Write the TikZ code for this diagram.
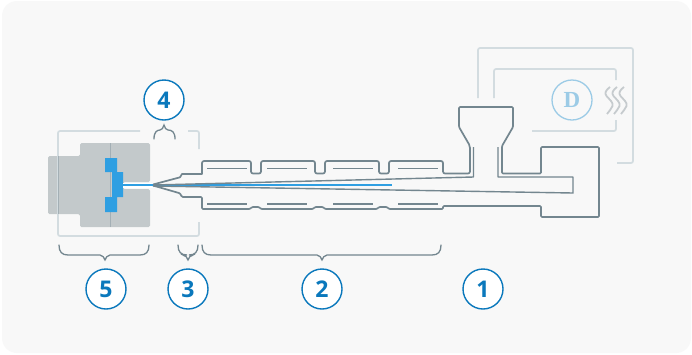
\documentclass[tikz,border=0pt]{standalone}
\usepackage{fontspec}
\setmainfont{Open Sans}
\newfontfamily\dfont{Liberation Serif}
\definecolor{bgc}{HTML}{F8F8F8}
\definecolor{steel}{HTML}{73868F}
\definecolor{framec}{HTML}{D3DCE0}
\definecolor{moldc}{HTML}{C3C9CB}
\definecolor{moldl}{HTML}{A3AFB5}
\definecolor{bluep}{HTML}{2F9FE2}
\definecolor{numc}{HTML}{0A78BC}
\definecolor{softb}{HTML}{9CCBE6}
\definecolor{wavec}{HTML}{C6CBCE}
\tikzset{
  steelline/.style={draw=steel,line width=1.7pt,line join=round},
  dashline/.style={draw=steel,line width=1.3pt},
  ctrl/.style={draw=framec,line width=1.7pt,rounded corners=2pt},
  bracel/.style={draw=steel,line width=1.3pt,line cap=round},
  numdisc/.style={circle,draw=numc,line width=1.4pt,fill=white,minimum size=40pt,inner sep=0pt,text=numc,font=\fontsize{23}{23}\selectfont\bfseries},
  wave/.style={draw=wavec,line width=1.8pt},
}
\newcommand{\bracket}[4]{%
  \draw[bracel] (#1,#3) .. controls (#1,#3+7) and (#1+3,#3+10) .. (#1+9,#3+10)
    -- (#4-5,#3+10) .. controls (#4-2,#3+10) and (#4-1,#3+13) .. (#4,#3+15)
    .. controls (#4+1,#3+13) and (#4+2,#3+10) .. (#4+5,#3+10)
    -- (#2-9,#3+10) .. controls (#2-3,#3+10) and (#2,#3+7) .. (#2,#3);}
\begin{document}
\begin{tikzpicture}[x=1pt,y=-1pt]
\useasboundingbox (0,0) rectangle (692,354);
\fill[white] (0,0) rectangle (692,354);
\fill[bgc,rounded corners=15pt] (2,1) rectangle (691,353);
% mold
\fill[moldc,rounded corners=1.5pt] (80,143) -- (150,143) -- (150,182) -- (123,182) -- (123,189) -- (150,189) -- (150,227) -- (80,227) -- (80,214) -- (48,214) -- (48,156) -- (80,156) -- cycle;
\draw[moldl,line width=1pt] (110,143) -- (110,227);
% control and frame
\draw[ctrl] (140,131) -- (58,131) -- (58,236) -- (199,236) -- (199,222);
\draw[ctrl] (188,131) -- (199,131) -- (199,149);
\draw[moldl,line width=1pt] (58,156) -- (58,214);
\draw[ctrl] (478,98) -- (478,48) -- (633,48) -- (633,163) -- (617,163);
\draw[ctrl] (494,98) -- (494,69) -- (616,69) -- (616,80);
\draw[ctrl] (616,120) -- (616,131) -- (532,131);
% blue part
\fill[bluep] (105,158) -- (117,158) -- (117,172) -- (123,172) -- (123,197) -- (117,197) -- (117,212) -- (105,212) -- (105,197) -- (112,197) -- (112,172) -- (105,172) -- cycle;
\fill[white] (123,182.5) rectangle (153,188);
\draw[bluep,line width=1.2pt] (123,185) -- (392,185);
% barrel
\draw[steelline,line width=1.4pt] (153,185) -- (473.5,177) -- (473.5,147);
\draw[steelline,line width=1.4pt] (498,147) -- (498,177) -- (573,177) -- (573,193) -- (153,186);
\draw[steelline] (153,184.5) -- (180,177.3) -- (182,174) -- (202,174)
  [rounded corners=2pt] -- (202,161) -- (251,161) -- (251,173.5) -- (261,173.5) -- (261,161) -- (315,161) -- (315,173.5) -- (325,173.5) -- (325,161) -- (379,161) -- (379,173.5) -- (389,173.5) -- (389,161) -- (443,161) -- (443,173.5) -- (470,173.5) -- (470,146)
  [rounded corners=1pt] -- (459,127) -- (459,107) -- (513,107) -- (513,127) -- (502,146) -- (502,173.5) -- (541,173.5) -- (541,147) -- (599,147) -- (599,217) -- (541,217) -- (541,206) -- (443,206) -- (443,209) -- (389,209) -- (387,207) -- (379,207) -- (377,209) -- (325,209) -- (323,207) -- (315,207) -- (313,209) -- (261,209) -- (259,207) -- (252,207) -- (250,209) -- (202,209) -- (202,197) -- (182,197) -- (180,193.3) -- (153,185.5);
\foreach \a/\b in {207/247,267/307,333/373,398/438}{
  \draw[dashline] (\a,168.3) -- (\b,168.3);
  \draw[dashline] (\a,204) -- (\b,204);
}
% dryer
\node[circle,draw=softb,line width=1.3pt,minimum size=40pt,inner sep=0pt,text=softb,font=\dfont\fontsize{23}{23}\selectfont\bfseries] (dry) at (572,100) {D};
\foreach \x in {0,7,14}{
  \draw[wave] (610+\x,87) .. controls (606+\x,90) and (604+\x,93) .. (606.5+\x,96)
     .. controls (609+\x,99) and (614+\x,103) .. (612.5+\x,106)
     .. controls (611.5+\x,109) and (609+\x,111) .. (607+\x,114);
}
% braces
\bracket{59}{149}{245}{105}
\bracket{178}{198}{245}{188}
\bracket{202}{441}{245}{322}
\draw[bracel] (154,139) .. controls (154,132) and (157,130) .. (160,130) .. controls (162,130) and (163,128) .. (164,125) .. controls (165,128) and (166,130) .. (168,130) .. controls (172,130) and (175,132) .. (175,139);
% numbers
\node[numdisc] (n5) at (106,289) {5};
\node[numdisc] (n3) at (188,289) {3};
\node[numdisc] (n2) at (322,289) {2};
\node[numdisc] (n1) at (483,289) {1};
\node[numdisc] (n4) at (164,100) {4};
\end{tikzpicture}
\end{document}
